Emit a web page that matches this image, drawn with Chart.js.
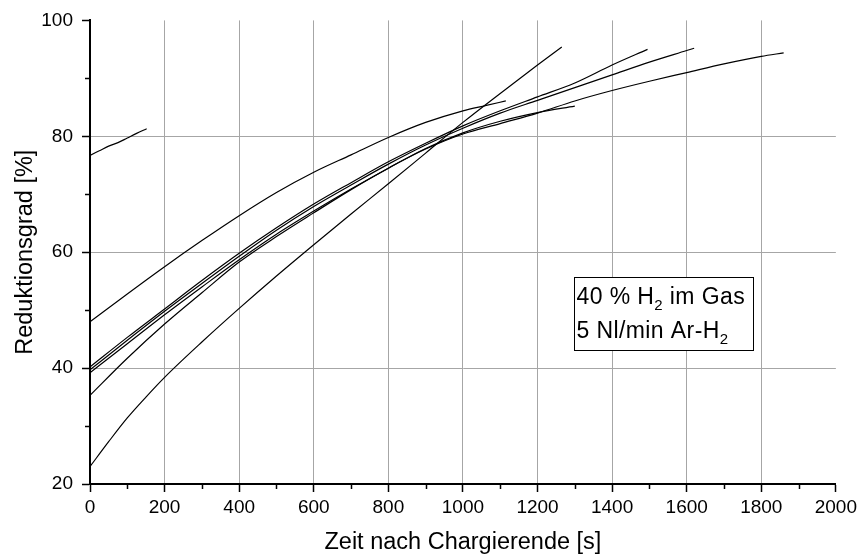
<!DOCTYPE html>
<html>
<head>
<meta charset="utf-8">
<script src="https://cdn.jsdelivr.net/npm/chart.js@4"></script>
<style>
  body { margin: 0; background: #fff; }
</style>
</head>
<body>
<canvas id="chart" width="861" height="558"></canvas>
<script>
// tick values
const xTickValues = [0, 200, 400, 600, 800, 1000, 1200, 1400, 1600, 1800, 2000];
const yTickValues = [20, 40, 60, 80, 100];
const xMinor = [100, 300, 500, 700, 900, 1100, 1300, 1500, 1700, 1900];
const yMinor = [30, 50, 70, 90];

// one time/value pair of arrays per experiment
const t1 = [0, 25, 50, 75, 100, 125, 152];
const r1 = [76.7, 77.5, 78.3, 78.9, 79.7, 80.5, 81.3];

const t2 = [0, 100, 200, 300, 400, 500, 600, 700, 800, 900, 1000, 1060, 1115];
const r2 = [48.0, 52.8, 57.5, 62.0, 66.3, 70.3, 73.8, 76.8, 79.8, 82.4, 84.4, 85.3, 86.1];

const t3 = [0, 50, 100, 150, 200, 300, 400, 500, 600, 700, 800, 900, 1000, 1100, 1200, 1265];
const r3 = [23.0, 27.3, 31.4, 35.0, 38.4, 44.5, 50.3, 55.9, 61.3, 66.6, 71.8, 77.1, 82.4, 87.4, 92.3, 95.4];

const t4 = [0, 100, 200, 300, 400, 500, 600, 700, 800, 900, 1000, 1100, 1200, 1300, 1400, 1495];
const r4 = [40.2, 45.3, 50.2, 55.1, 59.8, 64.2, 68.3, 72.0, 75.6, 78.8, 81.8, 84.4, 86.8, 89.2, 92.3, 95.0];

const t5 = [0, 100, 200, 300, 400, 500, 600, 700, 800, 900, 1000, 1100, 1200, 1300, 1400, 1500, 1600, 1620];
const r5 = [39.7, 44.8, 49.8, 54.6, 59.3, 63.8, 67.9, 71.6, 75.2, 78.5, 81.4, 84.0, 86.2, 88.4, 90.6, 92.8, 94.8, 95.2];

const t6 = [0, 100, 200, 300, 400, 500, 600, 700, 800, 900, 1000, 1100, 1200, 1300];
const r6 = [39.2, 44.2, 49.2, 54.0, 58.7, 63.1, 67.1, 70.9, 74.5, 77.9, 80.6, 82.6, 84.1, 85.2];

const t7 = [0, 100, 200, 300, 400, 500, 600, 700, 800, 900, 1000, 1100, 1200, 1300, 1400, 1500, 1600, 1700, 1800, 1860];
const r7 = [35.3, 41.7, 47.6, 53.0, 58.3, 62.7, 66.8, 70.8, 74.5, 77.8, 80.4, 82.2, 84.0, 86.1, 87.9, 89.5, 91.0, 92.5, 93.8, 94.4];

const series = [[t1, r1], [t2, r2], [t3, r3], [t4, r4], [t5, r5], [t6, r6], [t7, r7]];

// text box anchor (data units, top-left corner)
const noteX = 1297;
const noteY = 55.8;

const FONT = '"Liberation Sans", Arial, sans-serif';

const datasets = series.map(([t, r]) => ({
  data: t.map((x, i) => ({ x: x, y: r[i] })),
  borderColor: '#000',
  borderWidth: 1.2,
  pointRadius: 0,
  fill: false,
  showLine: true,
  cubicInterpolationMode: 'monotone'
}));

// minor ticks + the text box
const extras = {
  id: 'extras',
  afterDraw(chart) {
    const { ctx } = chart;
    const x = chart.scales.x, y = chart.scales.y;
    ctx.save();
    ctx.strokeStyle = '#000';
    ctx.lineWidth = 1.5;
    ctx.beginPath();
    xMinor.forEach(v => {
      const px = Math.round(x.getPixelForValue(v)) + 0.5;
      ctx.moveTo(px, y.bottom);
      ctx.lineTo(px, y.bottom + 5);
    });
    yMinor.forEach(v => {
      const py = Math.round(y.getPixelForValue(v)) + 0.5;
      ctx.moveTo(x.left, py);
      ctx.lineTo(x.left - 5, py);
    });
    ctx.stroke();

    const bx = Math.round(x.getPixelForValue(noteX)) + 0.5;
    const by = Math.round(y.getPixelForValue(noteY)) + 0.5;
    ctx.fillStyle = '#fff';
    ctx.fillRect(bx, by, 179, 73);
    ctx.lineWidth = 1;
    ctx.strokeRect(bx, by, 179, 73);

    ctx.fillStyle = '#000';
    ctx.textBaseline = 'alphabetic';
    ctx.textAlign = 'left';
    ctx.letterSpacing = '0.4px';
    const big = '23px ' + FONT, small = '15px ' + FONT;
    function line(parts, tx, ty) {
      parts.forEach(([txt, sub]) => {
        ctx.font = sub ? small : big;
        ctx.fillText(txt, tx, sub ? ty + 6 : ty);
        tx += ctx.measureText(txt).width;
      });
    }
    line([['40 % H', false], ['2', true], [' im Gas', false]], bx + 2, by + 26);
    line([['5 Nl/min Ar-H', false], ['2', true]], bx + 2, by + 60);
    ctx.restore();
  }
};

new Chart(document.getElementById('chart'), {
  type: 'scatter',
  data: { datasets: datasets },
  plugins: [extras],
  options: {
    responsive: false,
    animation: false,
    layout: { padding: { top: 18, right: 24, left: 0, bottom: 0 } },
    plugins: { legend: { display: false }, tooltip: { enabled: false } },
    scales: {
      x: {
        type: 'linear',
        min: 0,
        max: 2000,
        afterBuildTicks: s => { s.ticks = xTickValues.map(v => ({ value: v })); },
        afterFit: s => { s.height = 74; },
        border: { color: '#000', width: 2 },
        grid: {
          color: c => (c.tick && c.tick.value > 0 && c.tick.value < 2000) ? '#a6a6a6' : 'rgba(0,0,0,0)',
          lineWidth: 1,
          tickColor: '#000',
          tickLength: 8,
          tickWidth: 1.5
        },
        ticks: { color: '#000', padding: 4, maxRotation: 0, font: { family: FONT, size: 19 }, callback: v => String(v) },
        title: {
          display: true,
          text: 'Zeit nach Chargierende [s]',
          color: '#000',
          font: { family: FONT, size: 23.5 },
          padding: { top: 0, bottom: 1 }
        }
      },
      y: {
        type: 'linear',
        min: 20,
        max: 100,
        afterBuildTicks: s => { s.ticks = yTickValues.map(v => ({ value: v })); },
        afterFit: s => { s.width = 90; },
        border: { color: '#000', width: 2 },
        grid: {
          color: c => (c.tick && c.tick.value > 20 && c.tick.value < 100) ? '#a6a6a6' : 'rgba(0,0,0,0)',
          lineWidth: 1,
          tickColor: '#000',
          tickLength: 8,
          tickWidth: 1.5
        },
        ticks: { color: '#000', padding: 9, font: { family: FONT, size: 19 }, callback: v => String(v) },
        title: {
          display: true,
          text: 'Reduktionsgrad [%]',
          color: '#000',
          font: { family: FONT, size: 23.5 },
          padding: { top: 11, bottom: 0 }
        }
      }
    }
  }
});
</script>
</body>
</html>
